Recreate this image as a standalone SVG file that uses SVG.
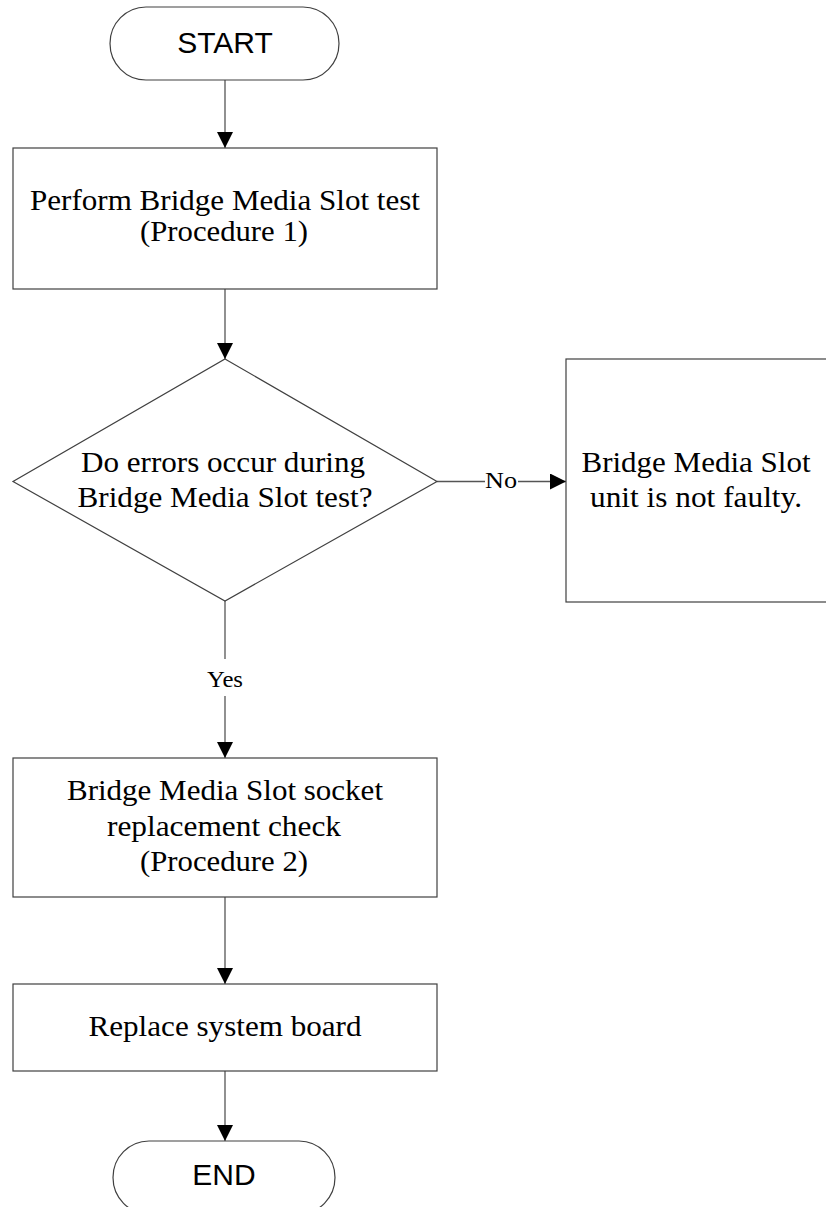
<svg xmlns="http://www.w3.org/2000/svg" width="826" height="1207" viewBox="0 0 826 1207">
<style>
.box{fill:#fff;stroke:#404040;stroke-width:1.2}
.conn{fill:none;stroke:#555;stroke-width:1.3}
.t{font-family:"Liberation Serif","Times New Roman",serif;font-size:30px;fill:#000;text-anchor:middle}
.s{font-family:"Liberation Sans",Arial,sans-serif;font-size:30px;fill:#000;text-anchor:middle}
.lbl{font-family:"Liberation Serif","Times New Roman",serif;font-size:24px;fill:#000;text-anchor:middle}
</style>
<defs>
<marker id="arr" viewBox="0 0 16 16" refX="16" refY="8" markerWidth="16" markerHeight="16" markerUnits="userSpaceOnUse" orient="auto">
<path d="M0,0 L16,8 L0,16 z" fill="#000"/>
</marker>
</defs>
<rect width="826" height="1207" fill="#fff"/>
<g id="connectors">
<line class="conn" x1="225" y1="80" x2="225" y2="148" marker-end="url(#arr)"/>
<line class="conn" x1="225" y1="289" x2="225" y2="359" marker-end="url(#arr)"/>
<line class="conn" x1="437" y1="481.5" x2="485" y2="481.5"/>
<text class="lbl" x="501" y="488" textLength="32" lengthAdjust="spacingAndGlyphs">No</text>
<line class="conn" x1="518" y1="481.5" x2="566" y2="481.5" marker-end="url(#arr)"/>
<line class="conn" x1="225" y1="601" x2="225" y2="659"/>
<text class="lbl" x="225" y="687" textLength="36" lengthAdjust="spacingAndGlyphs">Yes</text>
<line class="conn" x1="225" y1="696" x2="225" y2="758" marker-end="url(#arr)"/>
<line class="conn" x1="225" y1="897" x2="225" y2="984" marker-end="url(#arr)"/>
<line class="conn" x1="225" y1="1071" x2="225" y2="1141" marker-end="url(#arr)"/>
</g>
<g id="start">
<path class="box" d="M146,7 H303 A36,36.5 0 0 1 303,80 H146 A36,36.5 0 0 1 146,7 Z"/>
<text class="s" x="225" y="53">START</text>
</g>
<g id="perform-test">
<rect class="box" x="13" y="148" width="424" height="141"/>
<text class="t" x="225" y="210" textLength="390" lengthAdjust="spacingAndGlyphs">Perform Bridge Media Slot test</text>
<text class="t" x="224" y="241" textLength="168" lengthAdjust="spacingAndGlyphs">(Procedure 1)</text>
</g>
<g id="decision">
<path class="box" d="M225,359 L437,481.5 L225,601 L13,481.5 Z"/>
<text class="t" x="223" y="472" textLength="284" lengthAdjust="spacingAndGlyphs">Do errors occur during</text>
<text class="t" x="225" y="507" textLength="295" lengthAdjust="spacingAndGlyphs">Bridge Media Slot test?</text>
</g>
<g id="not-faulty">
<rect class="box" x="566" y="359" width="270" height="243"/>
<text class="t" x="696" y="472" textLength="229" lengthAdjust="spacingAndGlyphs">Bridge Media Slot</text>
<text class="t" x="696" y="507" textLength="212" lengthAdjust="spacingAndGlyphs">unit is not faulty.</text>
</g>
<g id="socket-check">
<rect class="box" x="13" y="758" width="424" height="139"/>
<text class="t" x="225" y="800" textLength="316" lengthAdjust="spacingAndGlyphs">Bridge Media Slot socket</text>
<text class="t" x="224" y="836" textLength="234" lengthAdjust="spacingAndGlyphs">replacement check</text>
<text class="t" x="224" y="871" textLength="168" lengthAdjust="spacingAndGlyphs">(Procedure 2)</text>
</g>
<g id="replace-board">
<rect class="box" x="13" y="984" width="424" height="87"/>
<text class="t" x="225" y="1036" textLength="273" lengthAdjust="spacingAndGlyphs">Replace system board</text>
</g>
<g id="end">
<path class="box" d="M149,1141 H299 A36,36.5 0 0 1 299,1214 H149 A36,36.5 0 0 1 149,1141 Z"/>
<text class="s" x="224" y="1185">END</text>
</g>
</svg>
